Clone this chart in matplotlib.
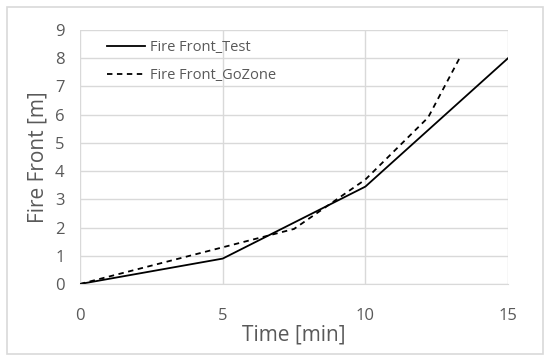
import matplotlib
matplotlib.use('Agg')
import matplotlib.pyplot as plt
from matplotlib.patches import Rectangle

# values
test_time = [0, 5, 10, 15]
test_front = [0, 0.9, 3.45, 8.0]

gozone_time = [0, 5, 7.5, 10, 12.2, 13.3]
gozone_front = [0, 1.3, 1.95, 3.7, 5.9, 8.0]

x_ticks = [0, 5, 10, 15]
y_ticks = list(range(0, 10))

plt.rcParams['font.family'] = ['Open Sans', 'DejaVu Sans']
grey_text = '#595959'
grid_col = '#d9d9d9'

fig = plt.figure(figsize=(5.5, 3.63), dpi=100)
ax = fig.add_axes([80 / 550, 1 - 284 / 363, 428 / 550, 254 / 363])

# light border round the whole chart
fig.patches.append(Rectangle((7 / 550, 1 - 354 / 363), 536 / 550, 347 / 363,
                             transform=fig.transFigure, fill=False,
                             edgecolor=grid_col, linewidth=1.2))

ax.plot(test_time, test_front, color='black', linewidth=1.3, label='Fire Front_Test')
ax.plot(gozone_time, gozone_front, color='black', linewidth=1.3,
        linestyle=(0, (3, 2.5)), label='Fire Front_GoZone')

ax.set_xlim(0, 15)
ax.set_ylim(0, 9)
ax.set_xticks(x_ticks)
ax.set_yticks(y_ticks)
ax.grid(True, color=grid_col, linewidth=1)
ax.set_axisbelow(True)
for s in ax.spines.values():
    s.set_visible(False)
ax.spines['bottom'].set_visible(True)
ax.spines['bottom'].set_color(grid_col)
ax.tick_params(length=0, labelsize=12, colors=grey_text)
ax.tick_params(axis='x', pad=17)
ax.tick_params(axis='y', pad=11)

ax.set_xlabel('Time [min]', fontsize=15, color=grey_text, labelpad=1)
ax.set_ylabel('Fire Front [m]', fontsize=15, color=grey_text, labelpad=5)

ax.legend(loc='upper left', frameon=False, fontsize=10.5, handlelength=2.6,
          handletextpad=0.3, labelspacing=0.9, borderaxespad=0.3,
          bbox_to_anchor=(0.04, 1.0), labelcolor=grey_text)

fig.savefig('out.png', dpi=100)
